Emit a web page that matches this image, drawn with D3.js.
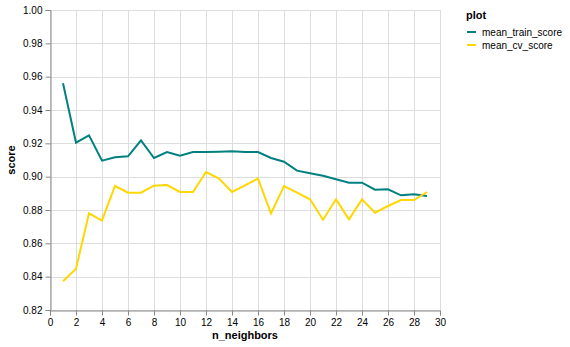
<!DOCTYPE html>
<html><head><meta charset="utf-8">
<script src="https://cdn.jsdelivr.net/npm/d3@7"></script>
<style>body{margin:0;background:#fff;}svg{display:block;font-family:"Liberation Sans",Arial,sans-serif;}</style>
</head><body>
<svg id="c" width="570" height="347"></svg>
<script>
const neighbors = d3.range(1, 30);
const trainScore = [0.956,0.9204,0.9248,0.9096,0.9116,0.9122,0.9218,0.9112,0.9148,0.9126,0.9148,0.9148,0.915,0.9152,0.9148,0.9148,0.9112,0.909,0.9036,0.902,0.9005,0.8984,0.8964,0.8964,0.8922,0.8924,0.8888,0.8894,0.8884];
const cvScore = [0.8372,0.8448,0.878,0.8736,0.8944,0.8904,0.8904,0.8946,0.895,0.8908,0.8908,0.9028,0.8988,0.8908,0.8948,0.8988,0.878,0.8944,0.8904,0.8864,0.8742,0.8864,0.8744,0.8864,0.8784,0.8824,0.886,0.886,0.8908];
const seriesNames = ["mean_train_score","mean_cv_score"];
const colors = ["#008080","#ffd700"];
const xTicks = d3.range(0, 31, 2);
const yTicks = d3.range(0.82, 1.0001, 0.02);

const svg = d3.select("#c");
const m = {left:50, top:10, w:390, h:300};
const x = d3.scaleLinear().domain([0,30]).range([m.left, m.left+m.w]);
const y = d3.scaleLinear().domain([0.82,1.0]).range([m.top+m.h, m.top]);

const g = svg.append("g");
// grid
g.selectAll(".gx").data(xTicks).join("line")
  .attr("x1", d=>x(d)+0.5).attr("x2", d=>x(d)+0.5)
  .attr("y1", m.top).attr("y2", m.top+m.h).attr("stroke","#ddd");
g.selectAll(".gy").data(yTicks).join("line")
  .attr("y1", d=>Math.round(y(d))+0.5).attr("y2", d=>Math.round(y(d))+0.5)
  .attr("x1", m.left).attr("x2", m.left+m.w).attr("stroke","#ddd");

// axes
const xAxis = d3.axisBottom(x).tickValues(xTicks).tickFormat(d3.format("d")).tickSize(5).tickPadding(3);
const yAxis = d3.axisLeft(y).tickValues(yTicks).tickFormat(d3.format(".2f")).tickSize(5).tickPadding(3);
const gx = svg.append("g").attr("transform",`translate(0,${m.top+m.h+0.5})`).call(xAxis);
const gy = svg.append("g").attr("transform",`translate(${m.left+0.5},0)`).call(yAxis);
[gx, gy].forEach(a=>{
  a.selectAll("path").attr("stroke","#888");
  a.selectAll("line").attr("stroke","#888");
  a.selectAll("text").attr("fill","#000").style("font-size","10px").style("font-family","Liberation Sans, Arial, sans-serif");
});

// titles
svg.append("text").attr("x", m.left+m.w/2).attr("y", 339).attr("text-anchor","middle")
  .style("font-size","11px").style("font-weight","bold").text("n_neighbors");
svg.append("text").attr("transform",`translate(14.5,${m.top+m.h/2}) rotate(-90)`).attr("text-anchor","middle")
  .style("font-size","11px").style("font-weight","bold").text("score");

// lines
const line = d3.line().x((d,i)=>x(neighbors[i])).y(d=>y(d));
[trainScore, cvScore].forEach((s,k)=>{
  svg.append("path").datum(s).attr("d", line).attr("fill","none")
    .attr("stroke", colors[k]).attr("stroke-width",2);
});

// legend
const lg = svg.append("g").attr("transform","translate(466,0)");
lg.append("text").attr("x",0).attr("y",19).style("font-size","11px").style("font-weight","bold").text("plot");
seriesNames.forEach((n,i)=>{
  const yy = 32 + i*13;
  lg.append("line").attr("x1",1).attr("x2",10).attr("y1",yy).attr("y2",yy).attr("stroke",colors[i]).attr("stroke-width",2);
  lg.append("text").attr("x",16).attr("y",yy+3.5).style("font-size","10px").text(n);
});
</script>
</body></html>
